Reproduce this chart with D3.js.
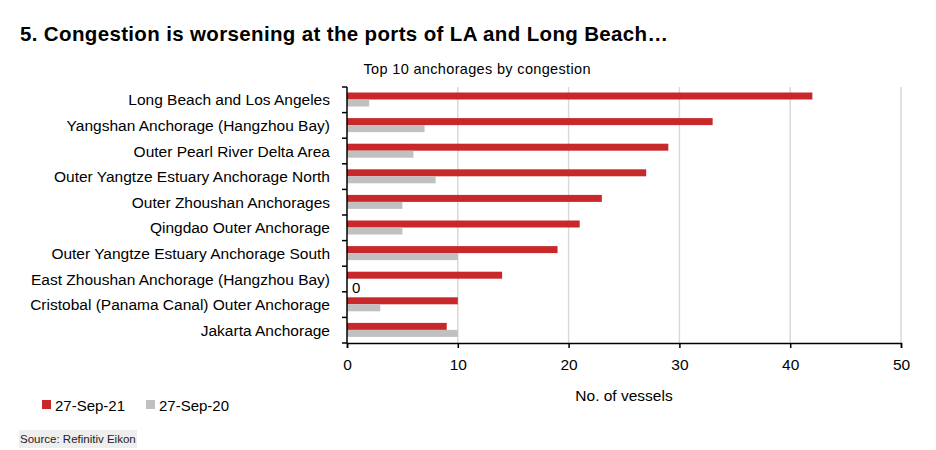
<!DOCTYPE html>
<html>
<head>
<meta charset="utf-8">
<script src="https://cdn.jsdelivr.net/npm/d3@7"></script>
<style>
  body { margin: 0; background: #fff; }
  svg { font-family: "Liberation Sans", Arial, sans-serif; }
</style>
</head>
<body>
<svg id="chart" width="936" height="450"></svg>
<script>
const categories = [
  "Long Beach and Los Angeles",
  "Yangshan Anchorage (Hangzhou Bay)",
  "Outer Pearl River Delta Area",
  "Outer Yangtze Estuary Anchorage North",
  "Outer Zhoushan Anchorages",
  "Qingdao Outer Anchorage",
  "Outer Yangtze Estuary Anchorage South",
  "East Zhoushan Anchorage (Hangzhou Bay)",
  "Cristobal (Panama Canal) Outer Anchorage",
  "Jakarta Anchorage"
];
const sep21 = [42, 33, 29, 27, 23, 21, 19, 14, 10, 9];
const sep20 = [2, 7, 6, 8, 5, 5, 10, 0, 3, 10];
const seriesNames = ["27-Sep-21", "27-Sep-20"];
const xTicks = [0, 10, 20, 30, 40, 50];

const colors = ["#c8282a", "#c0c0c0"];

const svg = d3.select("#chart");
const margin = { left: 347, right: 35, top: 87, bottom: 107 };
const W = 936, H = 450;

const x = d3.scaleLinear().domain([0, 50]).range([margin.left, W - margin.right]);
const y = d3.scaleBand().domain(categories).range([margin.top, H - margin.bottom]);
// two bars of ~7px inside each 25.6px band
const inner = d3.scaleBand().domain([0, 1]).range([5.5, 19.5]);

// title
svg.append("text")
  .attr("x", 20).attr("y", 41)
  .attr("font-size", 20.5).attr("font-weight", "bold")
  .attr("textLength", 648)
  .text("5. Congestion is worsening at the ports of LA and Long Beach\u2026");

svg.append("text")
  .attr("x", 477).attr("y", 74)
  .attr("text-anchor", "middle")
  .attr("font-size", 14.5)
  .attr("textLength", 227)
  .text("Top 10 anchorages by congestion");

// gridlines
svg.append("g")
  .selectAll("line")
  .data(xTicks.filter(d => d > 0))
  .join("line")
  .attr("x1", d => x(d)).attr("x2", d => x(d))
  .attr("y1", margin.top).attr("y2", H - margin.bottom)
  .attr("stroke", "#d9d9d9").attr("stroke-width", 1.5);

// bars
const rows = categories.map((c, i) => ({ c, vals: [sep21[i], sep20[i]] }));
const gRow = svg.append("g").selectAll("g")
  .data(rows)
  .join("g")
  .attr("transform", d => `translate(0,${y(d.c)})`);

gRow.selectAll("rect")
  .data(d => d.vals.map((v, k) => ({ v, k })))
  .join("rect")
  .attr("x", x(0))
  .attr("y", d => inner(d.k))
  .attr("width", d => x(d.v) - x(0))
  .attr("height", inner.bandwidth())
  .attr("fill", d => colors[d.k]);

gRow.selectAll("text.zero")
  .data(d => d.vals.map((v, k) => ({ v, k })).filter(e => e.v === 0))
  .join("text")
  .attr("class", "zero")
  .attr("x", x(0) + 5)
  .attr("y", d => inner(d.k) + inner.bandwidth() / 2 + 11)
  .attr("font-size", 15)
  .text("0");

// y axis
const yAxis = svg.append("g").attr("transform", `translate(${x(0)},0)`);
yAxis.append("line")
  .attr("x1", 0).attr("x2", 0)
  .attr("y1", margin.top).attr("y2", H - margin.bottom)
  .attr("stroke", "#000").attr("stroke-width", 1.5);
const bounds = categories.map(c => y(c)).concat([y(categories[categories.length - 1]) + y.bandwidth()]);
yAxis.selectAll("line.tk")
  .data(bounds)
  .join("line")
  .attr("class", "tk")
  .attr("x1", -5).attr("x2", 0)
  .attr("y1", d => d).attr("y2", d => d)
  .attr("stroke", "#000").attr("stroke-width", 1.5);
yAxis.selectAll("text")
  .data(categories)
  .join("text")
  .attr("x", -17)
  .attr("y", d => y(d) + y.bandwidth() / 2 + 5.5)
  .attr("text-anchor", "end")
  .attr("font-size", 15.5)
  .text(d => d);

// x axis
const xAxis = svg.append("g")
  .attr("transform", `translate(0,${H - margin.bottom})`)
  .call(d3.axisBottom(x).tickValues(xTicks).tickSize(5).tickPadding(11).tickFormat(d3.format("d")));
xAxis.select(".domain").attr("stroke", "#000").attr("stroke-width", 1.5);
xAxis.selectAll(".tick line").attr("stroke", "#000").attr("stroke-width", 1.5);
xAxis.selectAll(".tick text").attr("font-size", 15.5).attr("fill", "#000")
  .attr("font-family", "Liberation Sans, Arial, sans-serif");

svg.append("text")
  .attr("x", 624).attr("y", 401)
  .attr("text-anchor", "middle")
  .attr("font-size", 15.5)
  .text("No. of vessels");

// legend
const legend = svg.append("g").attr("transform", "translate(42,400)");
const lg = legend.selectAll("g")
  .data(seriesNames)
  .join("g")
  .attr("transform", (d, i) => `translate(${i * 104},0)`);
lg.append("rect").attr("width", 9).attr("height", 9).attr("fill", (d, i) => colors[i]);
lg.append("text").attr("x", 13).attr("y", 10.5).attr("font-size", 15).text(d => d);

// source
svg.append("rect")
  .attr("x", 19).attr("y", 430).attr("width", 118).attr("height", 18)
  .attr("fill", "#eeeeee");
svg.append("text")
  .attr("x", 20).attr("y", 443)
  .attr("font-size", 11.5).attr("fill", "#222")
  .text("Source: Refinitiv Eikon");
</script>
</body>
</html>
